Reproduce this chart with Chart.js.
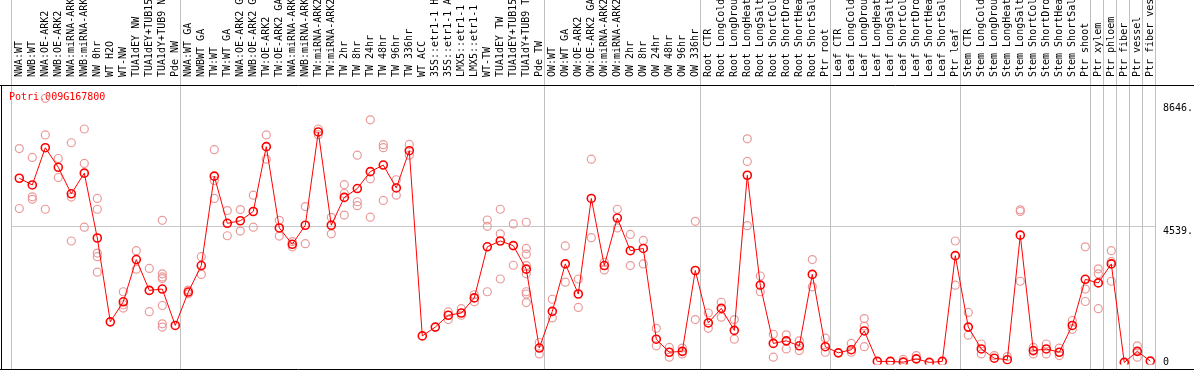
<!DOCTYPE html>
<html>
<head>
<meta charset="utf-8">
<script src="https://cdn.jsdelivr.net/npm/chart.js@4.4.1/dist/chart.umd.min.js"></script>
<style>
  html, body { margin: 0; padding: 0; background: #fff; }
  #wrap { width: 1194px; height: 370px; }
</style>
</head>
<body>
<div id="wrap"><canvas id="chart" width="1194" height="370"></canvas></div>
<script>
// Potri.009G167800 expression over the sample panel
const geneId = "Potri.009G167800";

const categories = [
  "NWA:WT", "NWB:WT", "NWA:OE-ARK2", "NWB:OE-ARK2", "NWA:miRNA-ARK2", "NWB:miRNA-ARK2",
  "NW 0hr", "WT H2O", "WT-NW", "TUA1dEY NW", "TUA1dEY+TUB15 NW", "TUA1dY+TUB9 NW", "Pde NW",
  "NWA:WT GA", "NWBWT GA", "TW:WT", "TW:WT GA", "NWA:OE-ARK2 GA", "NWB:OE-ARK2 GA",
  "TW:OE-ARK2", "TW:OE-ARK2 GA", "NWA:miRNA-ARK2 GA", "NWB:miRNA-ARK2 GA", "TW:miRNA-ARK2",
  "TW:miRNA-ARK2", "TW 2hr", "TW 8hr", "TW 24hr", "TW 48hr", "TW 96hr", "TW 336hr", "WT ACC",
  "35S::etr1-1 H2O", "35S::etr1-1 ACC", "LMX5::etr1-1 H2O", "LMX5::etr1-1 ACC", "WT-TW",
  "TUA1dEY TW", "TUA1dEY+TUB15 TW", "TUA1dY+TUB9 TW", "Pde TW",
  "OW:WT", "OW:WT GA", "OW:OE-ARK2", "OW:OE-ARK2 GA", "OW:miRNA-ARK2", "OW:miRNA-ARK2",
  "OW 2hr", "OW 8hr", "OW 24hr", "OW 48hr", "OW 96hr", "OW 336hr",
  "Root CTR", "Root LongCold", "Root LongDrought", "Root LongHeat", "Root LongSalt",
  "Root ShortCold", "Root ShortDrought", "Root ShortHeat", "Root ShortSalt", "Ptr root",
  "Leaf CTR", "Leaf LongCold", "Leaf LongDrought", "Leaf LongHeat", "Leaf LongSalt",
  "Leaf ShortCold", "Leaf ShortDrought", "Leaf ShortHeat", "Leaf ShortSalt", "Ptr leaf",
  "Stem CTR", "Stem LongCold", "Stem LongDrought", "Stem LongHeat", "Stem LongSalt",
  "Stem ShortCold", "Stem ShortDrought", "Stem ShortHeat", "Stem ShortSalt", "Ptr shoot",
  "Ptr xylem", "Ptr phloem", "Ptr fiber", "Ptr vessel", "Ptr fiber vessel"
];

const meanValues = [
  6150, 5925, 7170, 6515, 5630, 6320, 4155, 1355, 2025, 3435, 2405, 2450, 1235,
  2350, 3235, 6220, 4645, 4730, 5040, 7205, 4490, 3945, 4580, 7695, 4580,
  5510, 5805, 6370, 6590, 5825, 7070, 885, 1180, 1575, 1650, 2155, 3860,
  4055, 3900, 3115, 480,
  1705, 3290, 2285, 5475, 3235, 4820, 3730, 3805, 775, 340, 370, 3070,
  1320, 1805, 1070, 6250, 2580, 635, 720, 555, 2940, 525,
  320, 425, 1050, 35, 35, 10, 120, 0, 35, 3565,
  1180, 450, 140, 90, 4250, 395, 450, 340, 1235, 2775,
  2655, 3290, 0, 370, 45
];

// individual replicates (pale markers), one list per sample
const replicateValues = [
  [7140, 5140], [6845, 5530, 5445], [8820, 7595, 5115], [6810, 6175], [7335, 5520, 4055],
  [7795, 6645, 4515], [5475, 5115, 3650, 3530, 3015], [], [2360, 1925, 1815], [3730, 3115],
  [3140, 2400, 1695], [4745, 2960, 2855, 2800, 1900, 1290, 1180], [],
  [2415, 2290], [3530, 2940], [7105, 6075, 5475], [5070, 4230], [5105, 4385], [5585, 4515],
  [7595, 6785], [4745, 4220], [4035, 3860], [5205, 3965], [7795, 7605], [4845, 4295],
  [5935, 5640, 4920], [6920, 5365, 5235], [8100, 6130, 4850], [7270, 7170, 5410],
  [6100, 5585], [7280, 6920], [], [], [1685, 1430], [1795, 1575], [2260, 2025],
  [4755, 4545, 2360], [5115, 4295, 2785], [4625, 3245],
  [4680, 3805, 3615, 3235, 2960, 2360, 2285, 2000], [665, 285],
  [2110, 1485], [3890, 2680], [2785, 1835], [6785, 4165], [3345, 3090], [5115, 4490],
  [4275, 3235], [4075, 3290], [1140, 555], [500, 175], [480, 285], [4710, 1430],
  [1650, 1140], [2010, 1510], [1430, 775], [7465, 6710, 4565], [2885, 2360], [940, 175],
  [920, 450], [720, 395], [3435, 2525], [810, 340],
  [], [635, 340], [1465, 1215, 525], [], [], [100], [230], [], [], [4055, 2580],
  [1670, 910], [615, 285], [230], [195], [5095, 5040, 2710], [500, 285], [615, 285],
  [480, 230], [1400, 1105], [3860, 2450, 2035],
  [3125, 2960, 1795], [3730, 3365, 2710], [], [555, 175], []
];

const yTickValues = [0, 4539, 8646];
const yTickLabels = ["0", "4539.", "8646."];

// sample index after which a separator line is drawn
const groupEnds = [-1, 12, 40, 52, 62, 72, 82, 83, 84, 85, 86, 87];

const MONO = "10px 'DejaVu Sans Mono', monospace";
const RED = '#ff0000';
const PINK = '#ea9a9a';

const meanPoints = meanValues.map((v, i) => ({ x: i, y: v }));
const repPoints = [];
replicateValues.forEach((reps, i) => reps.forEach(v => repPoints.push({ x: i, y: v })));

const framePlugin = {
  id: 'frame',
  beforeDatasetsDraw(chart) {
    const { ctx } = chart;
    const xs = chart.scales.x;
    ctx.save();
    ctx.strokeStyle = '#c0c0c0';
    ctx.lineWidth = 1;
    groupEnds.forEach(g => {
      const px = Math.floor(xs.getPixelForValue(g + 0.385)) + 0.5;
      ctx.beginPath();
      ctx.moveTo(px, 0);
      ctx.lineTo(px, 369);
      ctx.stroke();
    });
    ctx.fillStyle = RED;
    ctx.font = MONO;
    ctx.textAlign = 'left';
    ctx.textBaseline = 'middle';
    ctx.fillText(geneId, 9, 97);
    ctx.restore();
  },
  afterDraw(chart) {
    const { ctx } = chart;
    const ys = chart.scales.y;
    ctx.save();
    // black frame
    ctx.strokeStyle = '#000';
    ctx.lineWidth = 1;
    ctx.beginPath();
    ctx.moveTo(0, 85.5); ctx.lineTo(1194, 85.5);
    ctx.moveTo(1.5, 85); ctx.lineTo(1.5, 370);
    ctx.moveTo(0, 369.5); ctx.lineTo(1194, 369.5);
    ctx.stroke();
    // y labels
    ctx.fillStyle = '#000';
    ctx.font = MONO;
    ctx.textAlign = 'left';
    ctx.textBaseline = 'middle';
    yTickValues.forEach((v, k) => {
      const y = Math.min(ys.getPixelForValue(v) + 4.5, 362);
      ctx.fillText(yTickLabels[k], 1163, y);
    });
    ctx.restore();
  }
};

new Chart(document.getElementById('chart'), {
  data: {
    datasets: [
      {
        type: 'line',
        data: meanPoints,
        order: 0,
        borderColor: RED,
        borderWidth: 1,
        tension: 0,
        pointRadius: 4,
        pointBorderWidth: 1.6,
        pointBorderColor: RED,
        pointBackgroundColor: 'rgba(0,0,0,0)'
      },
      {
        type: 'scatter',
        data: repPoints,
        order: 1,
        pointRadius: 4,
        borderWidth: 1.2,
        borderColor: PINK,
        backgroundColor: 'rgba(0,0,0,0)'
      }
    ]
  },
  options: {
    responsive: false,
    animation: false,
    layout: { padding: { left: 11.3, right: 0, top: 0, bottom: 1 } },
    plugins: { legend: { display: false }, tooltip: { enabled: false }, title: { display: false } },
    scales: {
      x: {
        type: 'linear',
        position: 'top',
        min: -0.615,
        max: 87.385,
        afterBuildTicks: s => { s.ticks = categories.map((c, i) => ({ value: i })); },
        afterFit: s => { s.height = 86; },
        grid: { display: false },
        border: { display: false },
        ticks: {
          autoSkip: false,
          minRotation: 90,
          maxRotation: 90,
          padding: 1,
          labelOffset: 12,
          color: '#000',
          font: { family: "'DejaVu Sans Mono', monospace", size: 10 },
          callback: v => categories[v]
        }
      },
      y: {
        type: 'linear',
        position: 'right',
        min: -66,
        max: 9230,
        afterBuildTicks: s => { s.ticks = yTickValues.map(v => ({ value: v })); },
        afterFit: s => { s.width = 38.7; },
        grid: {
          drawTicks: false,
          color: c => (c.tick && c.tick.value === 4539 ? '#c8c8c8' : 'rgba(0,0,0,0)')
        },
        border: { display: false },
        ticks: { display: false }
      }
    }
  },
  plugins: [framePlugin]
});
</script>
</body>
</html>
